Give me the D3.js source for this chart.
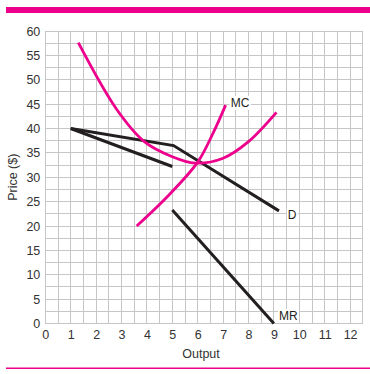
<!DOCTYPE html>
<html>
<head>
<meta charset="utf-8">
<script src="https://cdn.jsdelivr.net/npm/d3@7"></script>
<style>
  body { margin: 0; background: #fff; }
  svg text { font-family: Arial, "Liberation Sans", Helvetica, sans-serif; }
</style>
</head>
<body>
<div id="chart"></div>
<script>
'use strict';

var xTicks = [0, 1, 2, 3, 4, 5, 6, 7, 8, 9, 10, 11, 12];
var yTicks = [0, 5, 10, 15, 20, 25, 30, 35, 40, 45, 50, 55, 60];

// curves, [output, price]
var mcSteep = [[3.6, 20], [4.8, 26], [6, 33.1], [6.6, 39], [7.1, 44.8]];
var mcU = [[1.3, 57.6], [2.8, 44], [3.9, 37.3], [5, 34.2], [5.9, 32.9], [7, 33.9], [8, 37.3], [9.1, 43.3]];
var demand = [[1, 40], [5.05, 36.5], [9.2, 23.1]];
var demandLow = [[1, 40], [5, 32.2]];
var mr = [[5, 23.3], [9, 0]];

var labels = [
    { text: 'MC', x: 7.3, y: 45.3 },
    { text: 'D', x: 9.55, y: 22.3 },
    { text: 'MR', x: 9.2, y: 1.6 }
];

var W = 370, H = 374;
var pink = '#ec008c';
var ink = '#231f20';

var svg = d3.select('#chart').append('svg').attr('width', W).attr('height', H);

var x = d3.scaleLinear().domain([0, 12.5]).range([45.3, 362.8]);
var y = d3.scaleLinear().domain([0, 60]).range([323.5, 31]);

// top rule and bottom rule
svg.append('rect').attr('x', 6).attr('y', 7).attr('width', W - 6).attr('height', 6).attr('fill', pink);
svg.append('rect').attr('x', 6).attr('y', 367.5).attr('width', W - 6).attr('height', 1.5).attr('fill', pink);

// grid
var grid = svg.append('g').attr('stroke', '#c6c6c6').attr('stroke-width', 1).attr('shape-rendering', 'crispEdges');
grid.selectAll('line.v')
    .data(d3.range(0, 12.51, 0.5))
    .enter().append('line')
    .attr('class', 'v')
    .attr('x1', function (d) { return x(d); })
    .attr('x2', function (d) { return x(d); })
    .attr('y1', y(0)).attr('y2', y(60));
grid.selectAll('line.h')
    .data(d3.range(0, 60.1, 2.5))
    .enter().append('line')
    .attr('class', 'h')
    .attr('y1', function (d) { return y(d); })
    .attr('y2', function (d) { return y(d); })
    .attr('x1', x(0)).attr('x2', x(12.5));

// axes (labels only)
var xAxis = svg.append('g')
    .attr('transform', 'translate(0,' + y(0) + ')')
    .call(d3.axisBottom(x).tickValues(xTicks).tickSize(0).tickPadding(7));
var yAxis = svg.append('g')
    .attr('transform', 'translate(' + (x(0) - 5) + ',0)')
    .call(d3.axisLeft(y).tickValues(yTicks).tickSize(0).tickPadding(0));
[xAxis, yAxis].forEach(function (a) {
    a.select('.domain').remove();
    a.selectAll('text').attr('font-size', 12.5).attr('fill', '#333').style('font-family', 'Arial, "Liberation Sans", sans-serif');
});

svg.append('text')
    .attr('x', 201).attr('y', 358)
    .attr('text-anchor', 'middle')
    .attr('font-size', 12.5).attr('fill', '#333')
    .text('Output');
svg.append('text')
    .attr('transform', 'translate(17,' + ((y(0) + y(60)) / 2) + ') rotate(-90)')
    .attr('text-anchor', 'middle')
    .attr('font-size', 12.5).attr('fill', '#333')
    .text('Price ($)');

// curves
var smooth = d3.line()
    .x(function (d) { return x(d[0]); })
    .y(function (d) { return y(d[1]); })
    .curve(d3.curveCatmullRom);
var straight = d3.line()
    .x(function (d) { return x(d[0]); })
    .y(function (d) { return y(d[1]); });

[demandLow, demand, mr].forEach(function (pts) {
    svg.append('path').attr('d', straight(pts))
        .attr('fill', 'none').attr('stroke', ink).attr('stroke-width', 3)
        .attr('stroke-linejoin', 'miter');
});
[mcU, mcSteep].forEach(function (pts) {
    svg.append('path').attr('d', smooth(pts))
        .attr('fill', 'none').attr('stroke', pink).attr('stroke-width', 2.8);
});

// labels with white background
labels.forEach(function (l) {
    var t = svg.append('text')
        .attr('x', x(l.x)).attr('y', y(l.y))
        .attr('dy', '0.35em')
        .attr('font-size', 12).attr('fill', ink)
        .text(l.text);
    var b = t.node().getBBox();
    svg.insert('rect', function () { return t.node(); })
        .attr('x', b.x - 1).attr('y', b.y).attr('width', b.width + 2).attr('height', b.height)
        .attr('fill', '#fff');
});
</script>
</body>
</html>
